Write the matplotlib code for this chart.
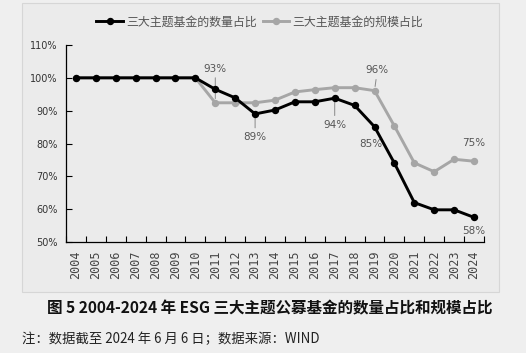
import matplotlib
matplotlib.use("Agg")
import matplotlib.pyplot as plt
from matplotlib.patches import Rectangle
from matplotlib.ticker import FixedLocator, NullFormatter

plt.rcParams['font.family'] = ['Noto Sans CJK SC', 'DejaVu Sans']

years = [str(y) for y in range(2004, 2025)]
count_share = [100, 100, 100, 100, 100, 100, 100, 96.5, 93.9, 89.0, 90.2, 92.7, 92.7, 93.8, 91.6,
               85.1, 74.0, 62.0, 59.8, 59.8, 57.5]
scale_share = [100, 100, 100, 100, 100, 100, 100, 92.4, 92.4, 92.4, 93.2, 95.7, 96.4, 97.0, 97.0,
               96.1, 85.3, 74.1, 71.4, 75.2, 74.6]
yticks = [50, 60, 70, 80, 90, 100, 110]
series_names = ['三大主题基金的数量占比', '三大主题基金的规模占比']

# annotations: (series, index, text, offset_pt, leader)
annos = [
    ('scale', 7, '93%', (0, 21), True),
    ('count', 9, '89%', (0, -13), True),
    ('count', 13, '94%', (0, -15.5), True),
    ('scale', 15, '96%', (2, 11), True),
    ('count', 15, '85%', (-3, -9), False),
    ('scale', 20, '75%', (0, 9.5), False),
    ('count', 20, '58%', (0, -6), False),
]

fig = plt.figure(figsize=(5.26, 3.53), dpi=100)
fig.patch.set_facecolor('#efefef')
fig.patches.append(Rectangle((22 / 526, 1 - 292 / 353), 477 / 526, 289 / 353,
                             transform=fig.transFigure, facecolor='#ebebeb',
                             edgecolor='#d6d6d6', linewidth=0.8, zorder=-10))

ax = fig.add_axes([66 / 526, 1 - 242 / 353, 418 / 526, 197 / 353])
ax.set_zorder(5)
ax.set_facecolor('none')
x = list(range(len(years)))
ax.plot(x, scale_share, color='#a6a6a6', lw=2.1, marker='o', ms=4.3, label=series_names[1], zorder=2)
ax.plot(x, count_share, color='#000000', lw=2.1, marker='o', ms=4.3, label=series_names[0], zorder=3)

ax.set_xlim(-0.5, len(years) - 0.5)
ax.set_ylim(50, 110)
ax.set_yticks(yticks)
ax.set_yticklabels([f'{v}%' for v in yticks], fontsize=7, color='#333333', family='DejaVu Sans')
ax.xaxis.set_major_locator(FixedLocator([i + 0.5 for i in range(-1, len(years))]))
ax.xaxis.set_major_formatter(NullFormatter())
ax.set_xticks(x, minor=True)
ax.set_xticklabels(years, minor=True, rotation=90, fontsize=8.5, color='#444444', family='DejaVu Sans Mono')
ax.tick_params(axis='x', which='major', direction='in', length=4, width=0.8, color='black')
ax.tick_params(axis='x', which='minor', length=0, pad=6)
ax.tick_params(axis='y', direction='in', length=4, width=0.8, pad=6)
for s in ['top', 'right']:
    ax.spines[s].set_visible(False)
for s in ['left', 'bottom']:
    ax.spines[s].set_color('black')
    ax.spines[s].set_linewidth(0.9)

for ser, i, txt, off, leader in annos:
    yv = count_share[i] if ser == 'count' else scale_share[i]
    va = 'bottom' if off[1] > 0 else 'top'
    kw = {}
    if leader:
        kw['arrowprops'] = dict(arrowstyle='-', color='#888888', lw=0.7, shrinkA=1, shrinkB=3)
    ax.annotate(txt, xy=(i, yv), xytext=off, textcoords='offset points', ha='center', va=va,
                fontsize=7.5, color='#555555', family='DejaVu Sans', zorder=1, **kw)

h, l = ax.get_legend_handles_labels()
leg = fig.legend(h[::-1], l[::-1], loc='center', bbox_to_anchor=(0.494, 1 - 22 / 353), ncol=2,
                 frameon=False, fontsize=8.6, handlelength=2.2, columnspacing=0.5, handletextpad=0.3)
for t in leg.get_texts():
    t.set_color('#555555')

fig.text(0.513, 1 - 308 / 353, '图 5 2004-2024 年 ESG 三大主题公募基金的数量占比和规模占比',
         ha='center', va='center', fontsize=11.2, fontweight='bold', color='#111111')
fig.text(22 / 526, 1 - 339 / 353, '注：数据截至 2024 年 6 月 6 日；数据来源：WIND',
         ha='left', va='center', fontsize=9.6, color='#222222')

fig.savefig('out.png', dpi=100, facecolor=fig.get_facecolor())
